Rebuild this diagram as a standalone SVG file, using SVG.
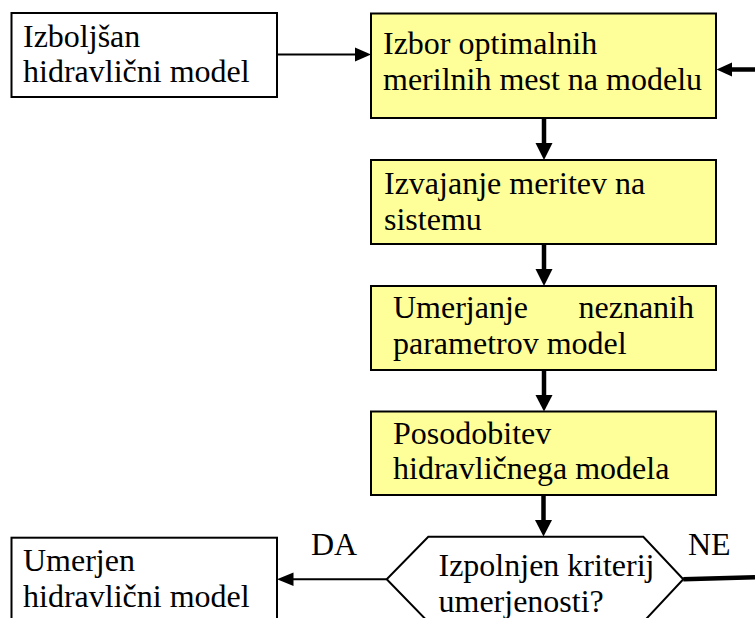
<svg xmlns="http://www.w3.org/2000/svg" width="755" height="618" viewBox="0 0 755 618">
<style>
.box{stroke:#000;stroke-width:2}
.white{fill:#fff}
.yellow{fill:#ffff99}
.t{font-family:'Liberation Serif','Times New Roman',Times,'DejaVu Serif',serif;font-size:32px;fill:#000}
.thin{stroke:#000;stroke-width:2;fill:none}
.thick{stroke:#000;stroke-width:4.5;fill:none}
.head{fill:#000}
</style>
<rect width="755" height="618" fill="#fff"/>
<g id="connectors">
<line class="thin" x1="277" y1="54.5" x2="356" y2="54.5"/>
<polygon class="head" points="371,54.5 355,47.5 355,61.5"/>
<line class="thick" x1="755" y1="69.5" x2="730" y2="69.5"/>
<polygon class="head" points="716.5,69.5 732,62.5 732,76.5"/>
<line class="thick" x1="544" y1="118" x2="544" y2="145"/>
<polygon class="head" points="544,160 535.5,143 552.5,143"/>
<line class="thick" x1="544" y1="244" x2="544" y2="271"/>
<polygon class="head" points="544,286 535.5,269 552.5,269"/>
<line class="thick" x1="544" y1="370" x2="544" y2="397"/>
<polygon class="head" points="544,411.5 535.5,395 552.5,395"/>
<line class="thick" x1="543.5" y1="495" x2="543.5" y2="522"/>
<polygon class="head" points="543.5,536.5 535,520 552,520"/>
<line class="thin" x1="386.7" y1="579.3" x2="292" y2="579.3"/>
<polygon class="head" points="277,579.3 293.5,572.5 293.5,586"/>
<line class="thick" x1="683.3" y1="579.3" x2="755" y2="577.3"/>
<text class="t" x="311" y="555">DA</text>
<text class="t" x="688" y="555">NE</text>
</g>
<g id="n1">
<rect class="box white" x="11.5" y="13" width="265.5" height="84"/>
<text class="t" x="23" y="47">Izboljšan</text>
<text class="t" x="23" y="82">hidravlični model</text>
</g>
<g id="n2">
<rect class="box yellow" x="371" y="13.5" width="345" height="104.5"/>
<text class="t" x="383" y="54">Izbor optimalnih</text>
<text class="t" x="383" y="90">merilnih mest na modelu</text>
</g>
<g id="n3">
<rect class="box yellow" x="371" y="160" width="345" height="84"/>
<text class="t" x="384" y="193.5">Izvajanje meritev na</text>
<text class="t" x="384" y="230">sistemu</text>
</g>
<g id="n4">
<rect class="box yellow" x="371" y="286" width="345" height="84"/>
<text class="t" x="393" y="318">Umerjanje</text>
<text class="t" x="694" y="318" text-anchor="end">neznanih</text>
<text class="t" x="393" y="353.5">parametrov model</text>
</g>
<g id="n5">
<rect class="box yellow" x="371" y="411.5" width="345" height="83.5"/>
<text class="t" x="393" y="443.5">Posodobitev</text>
<text class="t" x="393" y="478.5">hidravličnega modela</text>
</g>
<g id="n6">
<polygon class="box white" points="428.3,536.7 643.3,536.7 683.3,579.3 643.3,622 428.3,622 386.7,579.3"/>
<text class="t" x="438.5" y="576">Izpolnjen kriterij</text>
<text class="t" x="438.5" y="611.5">umerjenosti?</text>
</g>
<g id="n7">
<rect class="box white" x="11.5" y="537.7" width="265.5" height="90"/>
<text class="t" x="23" y="571">Umerjen</text>
<text class="t" x="23" y="606.5">hidravlični model</text>
</g>
</svg>
